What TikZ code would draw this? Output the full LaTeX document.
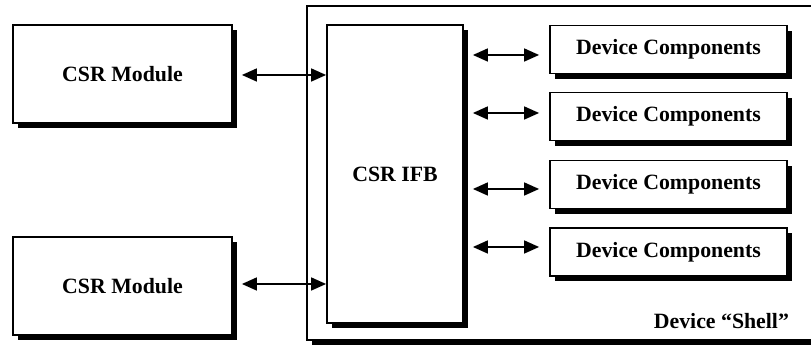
\documentclass[tikz,border=0pt]{standalone}
\usepackage{fontspec}
\setmainfont{Liberation Serif}
\usetikzlibrary{arrows.meta,shadows}
\begin{document}
\begin{tikzpicture}[x=0.5pt,y=-0.5pt,
  font=\fontsize{10.9}{13}\selectfont\bfseries,
  blk/.style={draw,fill=white,line width=0.9pt,
    drop shadow={fill=black,opacity=1,shadow xshift=2.6pt,shadow yshift=-2.6pt}},
  link/.style={{Triangle[length=7.5pt,width=6.5pt]}-{Triangle[length=7.5pt,width=6.5pt]},line width=0.8pt}]
\useasboundingbox (0,0) rectangle (811,346);
% outer shell, cut at the right
\fill[black] (312,11) rectangle (840,345);
\draw[fill=white,line width=0.7pt] (307,6) rectangle (835,340);
\node[anchor=east] (shelllbl) at (796,321) {Device ``Shell''};
% modules and interface block
\node[blk,minimum width=109.5pt,minimum height=49pt] (csrA) at (122.5,74) {CSR Module};
\node[blk,minimum width=109.5pt,minimum height=49pt] (csrB) at (122.5,286) {CSR Module};
\node[blk,minimum width=68pt,minimum height=149pt] (ifb) at (395,174) {CSR IFB};
\foreach \i/\y in {1/49.5,2/116.5,3/184.5,4/252}
  \node[blk,minimum width=118.5pt,minimum height=24pt] (dev\i) at (668.5,\y) {Device Components};
% links
\coordinate (la) at ([xshift=4.5pt,yshift=-0.5pt]csrA.east);
\coordinate (lb) at ([xshift=4.5pt,yshift=1pt]csrB.east);
\draw[link] (la) -- (la -| ifb.west);
\draw[link] (lb) -- (lb -| ifb.west);
\foreach \i/\d in {1/-2.75,2/1.75,3/-2.25,4/2.5}
  \draw[link] ([xshift=-5pt,yshift=\d pt]dev\i.west) -- ([xshift=4.5pt,yshift=\d pt]dev\i.west -| ifb.east);
\end{tikzpicture}
\end{document}
